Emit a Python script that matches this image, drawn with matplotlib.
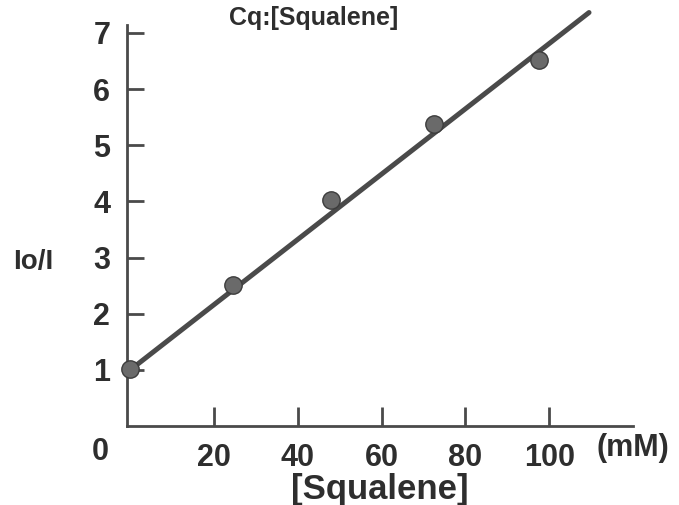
import matplotlib
matplotlib.use("Agg")
import matplotlib.pyplot as plt
import numpy as np

# Stern-Volmer quenching data: I0/I versus squalene concentration (mM)
squalene_mM = [0.0, 24.5, 48.0, 72.5, 97.5]
i0_over_i = [1.02, 2.51, 4.02, 5.37, 6.52]

# fitted Stern-Volmer line: I0/I = intercept + slope * [Q]
sv_intercept = 1.0
sv_slope = 0.0581
line_x_end = 109.5

x_ticks = [20, 40, 60, 80, 100]
y_ticks = [1, 2, 3, 4, 5, 6, 7]

ink = "#4a4a4a"
text_col = "#2e2e2e"
font = ["Liberation Sans", "DejaVu Sans"]

fig = plt.figure(figsize=(6.79, 5.05), dpi=100)
ax = fig.add_axes([127 / 679, 1 - 426 / 505, (633 - 127) / 679, (426 - 25) / 505])

fit_x = np.array([0.0, line_x_end])
fit_y = sv_intercept + sv_slope * fit_x
ax.plot(fit_x, fit_y, color=ink, lw=3.6, solid_capstyle="round", zorder=2,
        clip_on=False)
ax.plot(squalene_mM, i0_over_i, "o", ms=12.5, color="#6a6a6a",
        mec="#3c3c3c", mew=1.0, zorder=3, clip_on=False)

ax.set_xlim(-0.8, 120)
ax.set_ylim(0, 7.14)

for side in ("top", "right"):
    ax.spines[side].set_visible(False)
for side in ("left", "bottom"):
    ax.spines[side].set_color(ink)
    ax.spines[side].set_linewidth(2.0)

ax.set_xticks(x_ticks)
ax.set_xticklabels([str(v) for v in x_ticks])
ax.set_yticks(y_ticks)
ax.set_yticklabels([str(v) for v in y_ticks])

ax.tick_params(axis="x", direction="in", length=14, width=2.0, color=ink,
               pad=12, labelsize=22, labelcolor=text_col)
ax.tick_params(axis="y", direction="in", length=12.5, width=2.0, color=ink,
               pad=12, labelsize=22, labelcolor=text_col)
for lab in ax.get_xticklabels() + ax.get_yticklabels():
    lab.set_family(font)
    lab.set_fontweight("bold")

# origin label, unit and axis titles
fig.text(100 / 679, 1 - 452 / 505, "0", ha="center", va="center",
         fontsize=22, fontweight="bold", color=text_col, family=font)
fig.text(597 / 679, 1 - 448 / 505, "(mM)", ha="left", va="center",
         fontsize=22, fontweight="bold", color=text_col, family=font)
fig.text(380 / 679, 1 - 489 / 505, "[Squalene]", ha="center", va="center",
         fontsize=25, fontweight="bold", color=text_col, family=font)
fig.text(33 / 679, 1 - 262 / 505, "Io/I", ha="center", va="center",
         fontsize=20, fontweight="bold", color=text_col, family=font)
fig.text(314 / 679, 1 - 18 / 505, "Cq:[Squalene]", ha="center", va="center",
         fontsize=18, fontweight="bold", color=text_col, family=font)

fig.savefig("out.png", dpi=100)
